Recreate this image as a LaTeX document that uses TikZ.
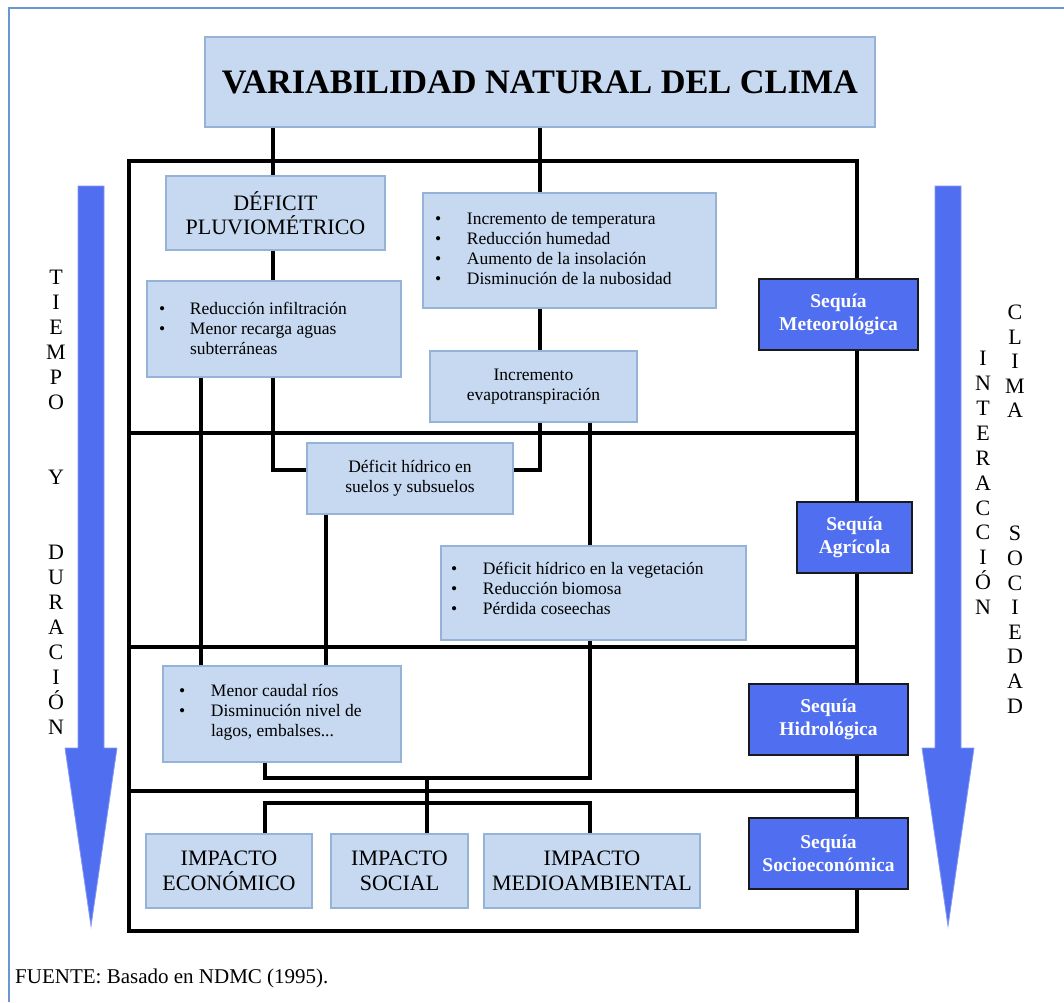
\documentclass[tikz,border=0pt]{standalone}
\usepackage{fontspec}
\setmainfont{Liberation Serif}
\pgfdeclarelayer{bg}
\pgfsetlayers{bg,main}
\definecolor{lboxfill}{HTML}{C6D9F0}
\definecolor{lboxline}{HTML}{95B3D7}
\definecolor{dboxfill}{HTML}{506EF0}
\definecolor{dboxline}{HTML}{1A1A1A}
\definecolor{arrowcol}{HTML}{506EF0}
\definecolor{bordercol}{HTML}{6A96D4}
\newcommand\smallfnt{\fontsize{17.5}{20}\selectfont}
\newcommand\myitem[2]{\hspace*{#1}\makebox[#2][l]{\textbullet}}
\begin{document}
\begin{tikzpicture}[x=1pt,y=-1pt,
  lbox/.style={draw=lboxline, line width=1.5pt, fill=lboxfill, inner sep=0pt, outer sep=0pt},
  cbox/.style={lbox, align=center},
  bigtxt/.style={font=\fontsize{22}{24.5}\selectfont},
  smtxt/.style={font=\smallfnt},
  dbox/.style={draw=dboxline, line width=1.5pt, fill=dboxfill, inner sep=0pt, outer sep=0pt,
    text=white, align=center, font=\fontsize{19.5}{22.5}\selectfont\bfseries,
    minimum height=71pt},
  conn/.style={line width=3.5pt, draw=black},
  framel/.style={line width=3.5pt, draw=black},
  vtext/.style={align=center, inner sep=0pt, anchor=north}
]
\useasboundingbox (0,0) rectangle (1064,1002);

% outer border (top and left edges only)
\draw[bordercol, line width=1.5pt] (9,1002) -- (9,8) -- (1064,8);

% ---------- boxes ----------
\node[cbox, minimum width=670pt, minimum height=90pt, font=\fontsize{34.3}{40}\selectfont\bfseries]
  (title) at (540,82) {VARIABILIDAD NATURAL DEL CLIMA};

\node[cbox, bigtxt, minimum width=219pt, minimum height=74pt] (pluv) at (275.5,213)
  {DÉFICIT\\PLUVIOMÉTRICO};

\node[lbox] (temp) at (569.5,250.5) {\begin{minipage}[c][115pt][t]{293pt}\smallfnt
\rule{0pt}{31pt}\myitem{12pt}{32pt}Incremento de temperatura\\
\myitem{12pt}{32pt}Reducción humedad\\
\myitem{12pt}{32pt}Aumento de la insolación\\
\myitem{12pt}{32pt}Disminución de la nubosidad
\end{minipage}};

\node[lbox] (infil) at (274,329) {\begin{minipage}[c][96pt][t]{254pt}\smallfnt
\rule{0pt}{33pt}\myitem{12pt}{31pt}Reducción infiltración\\
\myitem{12pt}{31pt}Menor recarga aguas\\
\hspace*{43pt}subterráneas
\end{minipage}};

\node[cbox, smtxt, minimum width=207pt, minimum height=71pt] (evapo) at (533.5,386.5)
  {Incremento\\evapotranspiración};

\node[cbox, smtxt, minimum width=206pt, minimum height=71pt] (hidrico) at (410,478.5)
  {Déficit hídrico en\\suelos y subsuelos};

\node[lbox] (veget) at (593.5,593) {\begin{minipage}[c][94pt][t]{305pt}\smallfnt
\rule{0pt}{28pt}\myitem{10pt}{32pt}Déficit hídrico en la vegetación\\
\myitem{10pt}{32pt}Reducción biomosa\\
\myitem{10pt}{32pt}Pérdida coseechas
\end{minipage}};

\node[lbox] (caudal) at (282,714) {\begin{minipage}[c][96pt][t]{238pt}\smallfnt
\rule{0pt}{30pt}\myitem{16pt}{32pt}Menor caudal ríos\\
\myitem{16pt}{32pt}Disminución nivel de\\
\hspace*{48pt}lagos, embalses...
\end{minipage}};

\node[cbox, bigtxt, minimum width=166pt, minimum height=74pt] (econ) at (229,871)
  {IMPACTO\\ECONÓMICO};
\node[cbox, bigtxt, minimum width=137pt, minimum height=74pt] (social) at (399.5,871)
  {IMPACTO\\SOCIAL};
\node[cbox, bigtxt, minimum width=216pt, minimum height=74pt] (medio) at (592,871)
  {IMPACTO\\MEDIOAMBIENTAL};

\node[dbox, minimum width=159pt] (meteo) at (838.5,314.5) {Sequía\\Meteorológica};
\node[dbox, minimum width=115pt] (agri) at (854.5,537.5) {Sequía\\Agrícola};
\node[dbox, minimum width=159pt] (hidro) at (828.5,719.5) {Sequía\\Hidrológica};
\node[dbox, minimum width=159pt] (socio) at (828.5,853.5) {Sequía\\Socioeconómica};

% ---------- side texts ----------
\node[vtext, font=\fontsize{22}{25}\selectfont] (ltext) at (56,270)
  {T\\I\\E\\M\\P\\O\\[50pt]Y\\[50pt]D\\U\\R\\A\\C\\I\\Ó\\N};
\node[vtext, font=\fontsize{22}{24.9}\selectfont] (rtext1) at (983,351)
  {I\\N\\T\\E\\R\\A\\C\\C\\I\\Ó\\N};
\node[vtext, font=\fontsize{22}{24.6}\selectfont] (rtext2) at (1015,304.8)
  {C\\L\\I\\M\\A\\[98.4pt]S\\O\\C\\I\\E\\D\\A\\D};

\node[anchor=base west, inner sep=0pt, font=\fontsize{21}{24}\selectfont] (src) at (15,983)
  {FUENTE: Basado en NDMC (1995).};

% ---------- arrows ----------
\filldraw[fill=arrowcol, draw=arrowcol!70!white, line width=0.8pt]
  (78,186) -- (104,186) -- (104,748) -- (117,748) -- (91,926) -- (65,748) -- (78,748) -- cycle;
\filldraw[fill=arrowcol, draw=arrowcol!70!white, line width=0.8pt]
  (935,186) -- (961,186) -- (961,748) -- (974,748) -- (948,926) -- (922,748) -- (935,748) -- cycle;

% ---------- rails ----------
\coordinate (cA) at (273,0);
\coordinate (cB) at (540,0);
\coordinate (cC) at (201,0);
\coordinate (cD) at (326,0);
\coordinate (cE) at (590,0);
\coordinate (cF) at (265,0);
\coordinate (cG) at (427,0);
\coordinate (hy) at (0,470);
\coordinate (hz) at (0,778);
\coordinate (hw) at (0,803);

\begin{pgfonlayer}{bg}
  % frame
  \draw[framel] (129,161) rectangle (857,931);
  \draw[framel] (129,433) -- (857,433);
  \draw[framel] (129,647) -- (857,647);
  \draw[framel] (129,791) -- (857,791);
  % connectors
  \draw[conn] (title.south -| cA) -- (pluv.north -| cA);
  \draw[conn] (title.south -| cB) -- (temp.north -| cB);
  \draw[conn] (pluv.south -| cA) -- (infil.north -| cA);
  \draw[conn] (temp.south -| cB) -- (evapo.north -| cB);
  \draw[conn] (infil.south -| cC) -- (caudal.north -| cC);
  \draw[conn] (infil.south -| cA) |- (hidrico.west |- hy);
  \draw[conn] (evapo.south -| cB) |- (hidrico.east |- hy);
  \draw[conn] (evapo.south -| cE) -- (veget.north -| cE);
  \draw[conn] (hidrico.south -| cD) -- (caudal.north -| cD);
  \draw[conn] (caudal.south -| cF) -- (cF |- hz) -- (cE |- hz) -- (veget.south -| cE);
  \draw[conn] (cG |- hz) -- (cG |- hw);
  \draw[conn] (econ.north -| cF) -- (cF |- hw) -- (cE |- hw) -- (medio.north -| cE);
  \draw[conn] (cG |- hw) -- (social.north -| cG);
\end{pgfonlayer}
\end{tikzpicture}
\end{document}
